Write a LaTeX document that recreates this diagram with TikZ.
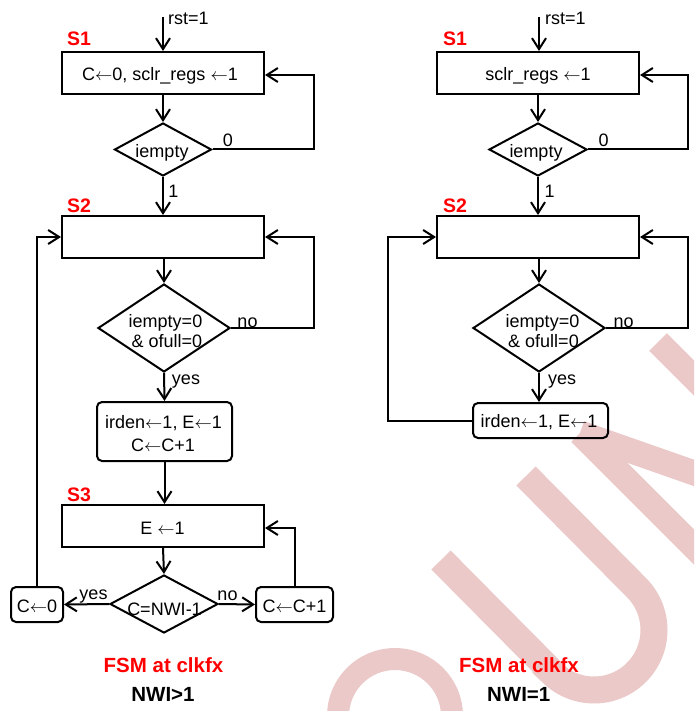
\documentclass[tikz,border=0pt]{standalone}
\usepackage{fontspec}
\setmainfont{Liberation Sans}
\usetikzlibrary{shapes.geometric,arrows.meta}
\definecolor{wmpink}{RGB}{235,201,201}
\definecolor{lblred}{RGB}{255,0,0}
\newcommand{\assignarrow}{\ensuremath{\leftarrow}}

\begin{document}
\begin{tikzpicture}[x=1pt,y=-1pt,
  every node/.style={font=\fontsize{18}{21}\selectfont, inner sep=0pt},
  flow/.style={line width=2pt, -{Straight Barb[length=11pt,width=14pt]}},
  statebox/.style={draw, line width=2pt, rectangle, minimum width=202pt, minimum height=42pt},
  actbox/.style={draw, line width=2pt, rectangle, rounded corners=5pt},
  decision/.style={draw, line width=2pt, diamond},
  txt/.style={anchor=base},
  statelbl/.style={anchor=base west, text=lblred, font=\fontsize{19.5}{22}\selectfont\bfseries},
  caption/.style={anchor=base, font=\fontsize{20.5}{24}\selectfont\bfseries},
  wm/.style={draw=wmpink, line cap=butt},
]
\fill[white] (0,0) rectangle (694,711);
\path[use as bounding box] (0,0) rectangle (694,711);

% background watermark letters
\begin{scope}
  \clip (0,0) rectangle (694,711);
  \draw[wm, line width=22pt] (395,716) circle[radius=57];
  \draw[wm, line width=27pt] (441,560) -- (552,672)
        -- plot[domain=135:-45, samples=60] ({594+60*cos(\x)},{630+60*sin(\x)})
        -- (526,476);
  \draw[wm, line width=25pt] (580,433) -- (760,613);
  \draw[wm, line width=25pt] (580,433) -- (840,524);
  \draw[wm, line width=25pt] (658,342) -- (840,524);
\end{scope}

% ---------------- left machine: NWI>1 ----------------
\coordinate (in1) at (163,17);
\node[statebox] (s1a) at (163,73) {};
\node[txt] (s1at) at (160,81) {C\assignarrow0, sclr\_regs \assignarrow1};
\node[decision, minimum width=97pt, minimum height=53pt] (d1a) at (163,149.5) {};
\node[txt] (d1at) at (162,157.5) {iempty};
\node[statebox] (s2a) at (163,237) {};
\node[decision, minimum width=132pt, minimum height=88pt] (d2a) at (164,328) {};
\node[txt] (d2at1) at (165.5,327) {iempty=0};
\node[txt] (d2at2) at (167,347) {\& ofull=0};
\node[actbox, minimum width=135pt, minimum height=59pt] (r1a) at (164.5,431.5) {};
\node[txt] (r1at1) at (163.5,428) {irden\assignarrow1, E\assignarrow1};
\node[txt] (r1at2) at (163,451) {C\assignarrow C+1};
\node[statebox] (s3a) at (163,526) {};
\node[txt] (s3at) at (162.5,534) {E \assignarrow1};
\node[decision, minimum width=108pt, minimum height=58pt] (d3a) at (164,604) {};
\node[txt] (d3at) at (164.5,615) {C=NWI-1};
\node[actbox, minimum width=52pt, minimum height=35pt] (c0a) at (37,604.5) {};
\node[txt] (c0at) at (37,612) {C\assignarrow0};
\node[actbox, minimum width=77pt, minimum height=35pt] (cinc) at (294.5,604.5) {};
\node[txt] (cinct) at (294.5,612) {C\assignarrow C+1};

\draw[flow] (in1) -- (s1a.north);
\draw[flow] (s1a.south) -- (d1a.north);
\draw[flow] (d1a.east) -- ++(101,0) |- ([yshift=-2pt]s1a.east);
\draw[flow] (d1a.south) -- (s2a.north);
\draw[flow] (d2a.north |- s2a.south) -- (d2a.north);
\draw[flow] (d2a.east) -- ++(83,0) |- (s2a.east);
\draw[flow] (d2a.south) -- (r1a.north);
\draw[flow] (r1a.south) -- (r1a.south |- s3a.north);
\draw[flow] (s3a.south) -- (d3a.north);
\draw[flow] (d3a.west) -- (c0a.east);
\draw[flow] (d3a.east) -- (cinc.west);
\draw[flow] (c0a.north) |- (s2a.west);
\draw[flow] (cinc.north) |- ([yshift=-2pt]s3a.east);

\node[anchor=base west] (rsta) at (168,25) {rst=1};
\node[txt] (l0a) at (228,147) {0};
\node[txt] (l1a) at (173.5,197) {1};
\node[txt] (lnoa) at (247.5,327) {no};
\node[txt] (lyesa) at (186,384) {yes};
\node[txt] (lyes3) at (93.5,599) {yes};
\node[txt] (lno3) at (227.5,600) {no};

\node[statelbl] (st1a) at (67,46) {S1};
\node[statelbl] (st2a) at (67,212) {S2};
\node[statelbl] (st3a) at (67,501) {S3};
\node[caption, text=lblred] (cap1a) at (163.5,672) {FSM at clkfx};
\node[caption] (cap2a) at (163,701) {NWI>1};

% ---------------- right machine: NWI=1 ----------------
\coordinate (in2) at (539,17);
\node[statebox] (s1b) at (538,73) {};
\node[txt] (s1bt) at (538,81) {sclr\_regs \assignarrow1};
\node[decision, minimum width=98pt, minimum height=53pt] (d1b) at (538,149.5) {};
\node[txt] (d1bt) at (536,157.5) {iempty};
\node[statebox] (s2b) at (538,237) {};
\node[decision, minimum width=132pt, minimum height=88pt] (d2b) at (539,328) {};
\node[txt] (d2bt1) at (542.5,327) {iempty=0};
\node[txt] (d2bt2) at (543.5,347) {\& ofull=0};
\node[actbox, minimum width=135pt, minimum height=35pt] (r1b) at (540.5,420.5) {};
\node[txt] (r1bt) at (539,427) {irden\assignarrow1, E\assignarrow1};

\draw[flow] (in2) -- (in2 |- s1b.north);
\draw[flow] (s1b.south) -- (d1b.north);
\draw[flow] (d1b.east) -- ++(100,0) |- ([yshift=-2pt]s1b.east);
\draw[flow] (d1b.south) -- (s2b.north);
\draw[flow] (d2b.north |- s2b.south) -- (d2b.north);
\draw[flow] (d2b.east) -- ++(82,0) |- (s2b.east);
\draw[flow] (d2b.south) -- (d2b.south |- r1b.north);
\draw[flow] (r1b.west) -- ++(-84,0) |- (s2b.west);

\node[anchor=base west] (rstb) at (545,25) {rst=1};
\node[txt] (l0b) at (603.5,147) {0};
\node[txt] (l1b) at (549.5,197) {1};
\node[txt] (lnob) at (623.5,327) {no};
\node[txt] (lyesb) at (562,384) {yes};

\node[statelbl] (st1b) at (443,46) {S1};
\node[statelbl] (st2b) at (443,212) {S2};
\node[caption, text=lblred] (cap1b) at (519,672) {FSM at clkfx};
\node[caption] (cap2b) at (518.7,701) {NWI=1};
\end{tikzpicture}
\end{document}
